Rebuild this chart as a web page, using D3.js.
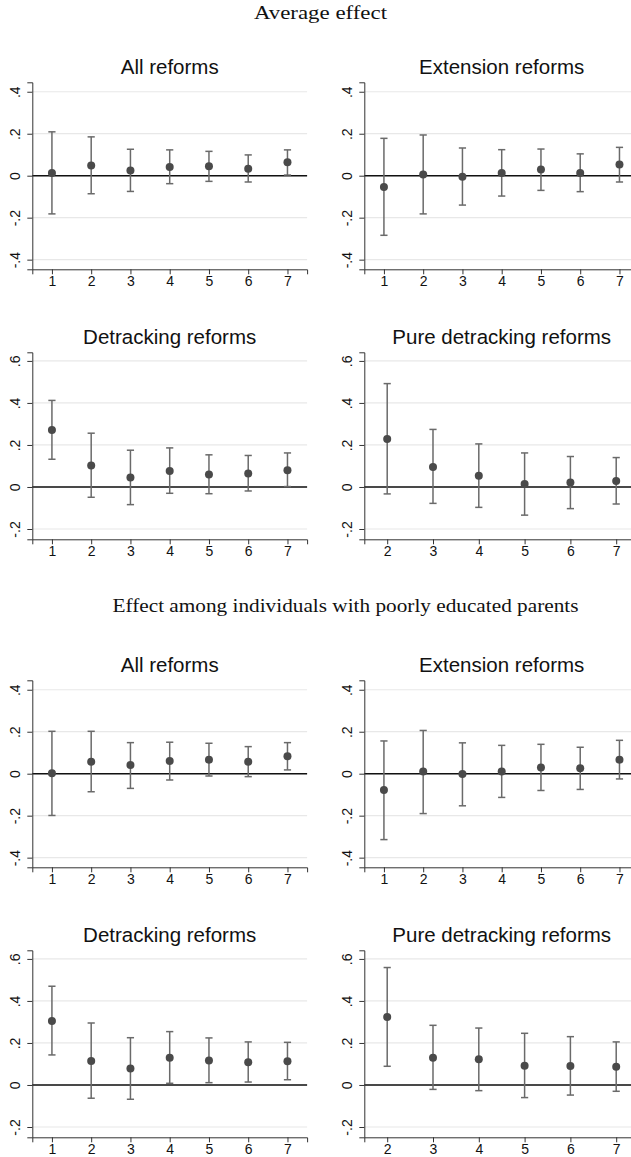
<!DOCTYPE html>
<html>
<head>
<meta charset="utf-8">
<script src="https://cdn.jsdelivr.net/npm/d3@7"></script>
<style>
  html, body { margin: 0; padding: 0; background: #fff; }
  svg { display: block; }
</style>
</head>
<body>
<svg id="chart" width="631" height="1157"></svg>
<script>
// ---- Data ----
const sectionTitles = ["Average effect", "Effect among individuals with poorly educated parents"];
const panelTitles = ["All reforms", "Extension reforms", "Detracking reforms", "Pure detracking reforms"];

const xAll = [1, 2, 3, 4, 5, 6, 7];
const xPure = [2, 3, 4, 5, 6, 7];

const yTicksWide = [-0.4, -0.2, 0, 0.2, 0.4];
const yTicksHigh = [-0.2, 0, 0.2, 0.4, 0.6];
const yTickLabels = {"-0.4": "-.4", "-0.2": "-.2", "0": "0", "0.2": ".2", "0.4": ".4", "0.6": ".6"};

// Average effect
const avgAllEst   = [0.013, 0.049, 0.025, 0.041, 0.045, 0.033, 0.064];
const avgAllLo    = [-0.182, -0.086, -0.075, -0.038, -0.027, -0.030, 0.003];
const avgAllHi    = [0.209, 0.185, 0.126, 0.123, 0.116, 0.099, 0.123];

const avgExtEst   = [-0.054, 0.006, -0.005, 0.013, 0.030, 0.013, 0.053];
const avgExtLo    = [-0.284, -0.182, -0.140, -0.097, -0.070, -0.076, -0.030];
const avgExtHi    = [0.178, 0.194, 0.132, 0.124, 0.127, 0.104, 0.135];

const avgDetEst   = [0.271, 0.102, 0.045, 0.076, 0.059, 0.064, 0.080];
const avgDetLo    = [0.132, -0.049, -0.084, -0.030, -0.032, -0.019, 0.002];
const avgDetHi    = [0.412, 0.256, 0.175, 0.186, 0.153, 0.150, 0.162];

const avgPureEst  = [0.228, 0.095, 0.053, 0.014, 0.021, 0.029];
const avgPureLo   = [-0.033, -0.078, -0.097, -0.134, -0.103, -0.081];
const avgPureHi   = [0.492, 0.274, 0.205, 0.162, 0.145, 0.140];

// Poorly educated parents
const poorAllEst  = [0.002, 0.057, 0.041, 0.061, 0.067, 0.057, 0.083];
const poorAllLo   = [-0.199, -0.086, -0.070, -0.030, -0.011, -0.014, 0.018];
const poorAllHi   = [0.202, 0.202, 0.148, 0.150, 0.145, 0.129, 0.148];

const poorExtEst  = [-0.078, 0.010, -0.002, 0.011, 0.030, 0.026, 0.067];
const poorExtLo   = [-0.314, -0.190, -0.153, -0.113, -0.080, -0.075, -0.025];
const poorExtHi   = [0.156, 0.206, 0.147, 0.135, 0.140, 0.126, 0.159];

const poorDetEst  = [0.305, 0.114, 0.078, 0.130, 0.116, 0.108, 0.113];
const poorDetLo   = [0.143, -0.063, -0.068, 0.008, 0.011, 0.014, 0.025];
const poorDetHi   = [0.470, 0.295, 0.225, 0.254, 0.224, 0.205, 0.203];

const poorPureEst = [0.324, 0.130, 0.122, 0.092, 0.090, 0.087];
const poorPureLo  = [0.089, -0.021, -0.027, -0.060, -0.048, -0.030];
const poorPureHi  = [0.559, 0.284, 0.271, 0.246, 0.230, 0.205];

// ---- Layout ----
const svg = d3.select("#chart");
const sectionOffset = 598;
const rowOffset = 270;
const plotTop0 = 82.3;
const plotH = 187;
const colLeft = [32.3, 364.3];
const plotW = 274.8;
const font = "'Liberation Sans', Arial, Helvetica, sans-serif";

const sectionTitleY = [19, 611.5];
const sectionTitleX = [320.5, 345.5];
const sectionTitleLen = [133, 466];

sectionTitles.forEach((t, i) => {
  svg.append("text")
    .attr("x", sectionTitleX[i]).attr("y", sectionTitleY[i])
    .attr("text-anchor", "middle")
    .attr("font-family", "'Liberation Serif', 'Times New Roman', serif")
    .attr("font-size", 19.5)
    .attr("textLength", sectionTitleLen[i])
    .attr("lengthAdjust", "spacingAndGlyphs")
    .attr("fill", "#111")
    .text(t);
});

const panels = [
  {s: 0, r: 0, c: 0, title: panelTitles[0], xs: xAll, est: avgAllEst, lo: avgAllLo, hi: avgAllHi},
  {s: 0, r: 0, c: 1, title: panelTitles[1], xs: xAll, est: avgExtEst, lo: avgExtLo, hi: avgExtHi},
  {s: 0, r: 1, c: 0, title: panelTitles[2], xs: xAll, est: avgDetEst, lo: avgDetLo, hi: avgDetHi},
  {s: 0, r: 1, c: 1, title: panelTitles[3], xs: xPure, est: avgPureEst, lo: avgPureLo, hi: avgPureHi},
  {s: 1, r: 0, c: 0, title: panelTitles[0], xs: xAll, est: poorAllEst, lo: poorAllLo, hi: poorAllHi},
  {s: 1, r: 0, c: 1, title: panelTitles[1], xs: xAll, est: poorExtEst, lo: poorExtLo, hi: poorExtHi},
  {s: 1, r: 1, c: 0, title: panelTitles[2], xs: xAll, est: poorDetEst, lo: poorDetLo, hi: poorDetHi},
  {s: 1, r: 1, c: 1, title: panelTitles[3], xs: xPure, est: poorPureEst, lo: poorPureLo, hi: poorPureHi}
];

panels.forEach(p => {
  const top = plotTop0 + p.r * rowOffset + p.s * sectionOffset;
  const left = colLeft[p.c];
  const g = svg.append("g").attr("transform", `translate(${left},${top})`);

  const yDom = p.r === 0 ? [-0.446, 0.445] : [-0.249, 0.641];
  const yTicks = p.r === 0 ? yTicksWide : yTicksHigh;
  const xDom = p.xs.length === 7 ? [0.5, 7.5] : [1.5, 7.5];

  const x = d3.scaleLinear().domain(xDom).range([0, plotW]);
  const y = d3.scaleLinear().domain(yDom).range([plotH, 0]);

  // gridlines
  g.selectAll(".grid").data(yTicks).enter().append("line")
    .attr("x1", 0).attr("x2", plotW)
    .attr("y1", d => y(d)).attr("y2", d => y(d))
    .attr("stroke", "#e8e8e8").attr("stroke-width", 1.2);

  // zero line
  g.append("line")
    .attr("x1", 0).attr("x2", plotW)
    .attr("y1", y(0)).attr("y2", y(0))
    .attr("stroke", "#111").attr("stroke-width", 1.4);

  // y axis
  const yAxis = d3.axisLeft(y).tickValues(yTicks).tickSize(5).tickPadding(6)
    .tickFormat(d => yTickLabels[String(+d.toFixed(1))]);
  const ya = g.append("g").call(yAxis);
  ya.select(".domain").attr("stroke", "#333").attr("stroke-width", 1);
  ya.selectAll(".tick line").attr("stroke", "#333");
  ya.selectAll(".tick text")
    .attr("font-family", font).attr("font-size", 14).attr("fill", "#111")
    .attr("text-anchor", "middle")
    .attr("x", 0).attr("dy", 0)
    .attr("transform", "translate(-12,0) rotate(-90)");

  // x axis
  const xAxis = d3.axisBottom(x).tickValues(p.xs).tickSize(5).tickPadding(1.5)
    .tickFormat(d3.format("d"));
  const xa = g.append("g").attr("transform", `translate(0,${plotH})`).call(xAxis);
  xa.select(".domain").attr("stroke", "#333").attr("stroke-width", 1);
  xa.selectAll(".tick line").attr("stroke", "#333");
  xa.selectAll(".tick text")
    .attr("font-family", font).attr("font-size", 14).attr("fill", "#111");

  // error bars
  const data = p.xs.map((xv, i) => ({x: xv, e: p.est[i], lo: p.lo[i], hi: p.hi[i]}));
  const eb = g.selectAll(".eb").data(data).enter().append("g");
  const barColor = "#6a6a6a";
  eb.append("line")
    .attr("x1", d => x(d.x)).attr("x2", d => x(d.x))
    .attr("y1", d => y(d.lo)).attr("y2", d => y(d.hi))
    .attr("stroke", barColor).attr("stroke-width", 1.5);
  eb.append("line")
    .attr("x1", d => x(d.x) - 3.6).attr("x2", d => x(d.x) + 3.6)
    .attr("y1", d => y(d.hi)).attr("y2", d => y(d.hi))
    .attr("stroke", barColor).attr("stroke-width", 1.5);
  eb.append("line")
    .attr("x1", d => x(d.x) - 3.6).attr("x2", d => x(d.x) + 3.6)
    .attr("y1", d => y(d.lo)).attr("y2", d => y(d.lo))
    .attr("stroke", barColor).attr("stroke-width", 1.5);
  eb.append("circle")
    .attr("cx", d => x(d.x)).attr("cy", d => y(d.e))
    .attr("r", 4)
    .attr("fill", "#4a4a4a");

  // panel title
  svg.append("text")
    .attr("x", left + plotW / 2).attr("y", top - 8)
    .attr("text-anchor", "middle")
    .attr("font-family", font).attr("font-size", 20.5)
    .attr("fill", "#111")
    .text(p.title);
});
</script>
</body>
</html>
